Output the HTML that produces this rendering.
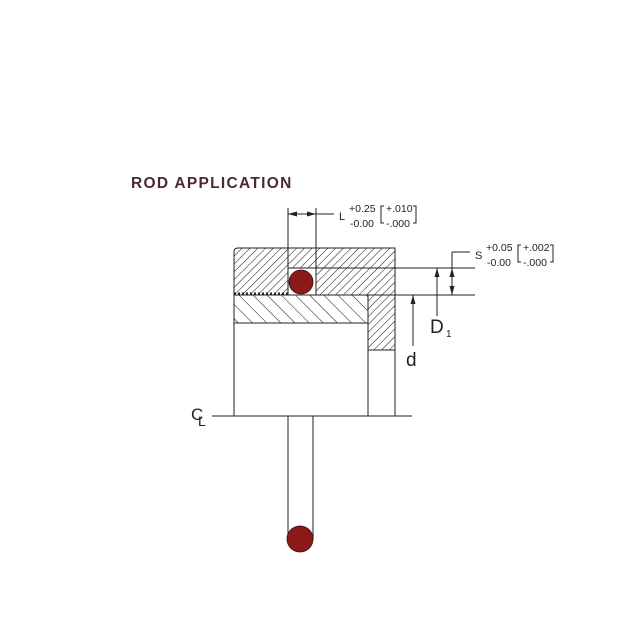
<!DOCTYPE html>
<html><head><style>html,body{margin:0;padding:0;background:#fff;width:640px;height:640px;overflow:hidden}</style></head>
<body>
<svg width="640" height="640" xmlns="http://www.w3.org/2000/svg" font-family="'Liberation Sans',sans-serif">
<defs>
<pattern id="hf" patternUnits="userSpaceOnUse" width="5.5" height="5.5" patternTransform="rotate(45)">
<line x1="0" y1="0" x2="0" y2="5.5" stroke="#111" stroke-width="1"/></pattern>
<pattern id="hb" patternUnits="userSpaceOnUse" width="10" height="10" patternTransform="rotate(-45)">
<line x1="0" y1="0" x2="0" y2="10" stroke="#111" stroke-width="1"/></pattern>
</defs>
<text x="131" y="188" font-size="15.5" font-weight="bold" fill="#4a2a30" letter-spacing="1.3">ROD APPLICATION</text>
<g stroke="#222" stroke-width="1" fill="none">
<path d="M234 295 V252 Q234 248 238 248 H395 V295 Z" fill="url(#hf)"/>
<rect x="288" y="268" width="28" height="27" fill="#fff" stroke="#222"/>
<rect x="234" y="295" width="134" height="28" fill="url(#hb)"/>
<rect x="368" y="295" width="27" height="55" fill="url(#hf)"/>
<rect x="234" y="323" width="134" height="93" fill="#fff"/>
<rect x="368" y="350" width="27" height="66" fill="#fff"/>
<path d="M234 293.5 H288" stroke-dasharray="2 2" stroke-width="2"/>
<line x1="212" y1="416" x2="412" y2="416"/>
<line x1="288" y1="416" x2="288" y2="540"/>
<line x1="313" y1="416" x2="313" y2="540"/>
<line x1="316" y1="268" x2="475" y2="268"/>
<line x1="395" y1="295" x2="475" y2="295"/>
<line x1="288" y1="208" x2="288" y2="268"/>
<line x1="316" y1="208" x2="316" y2="268"/>
<line x1="288" y1="214" x2="334" y2="214"/>
<line x1="452" y1="252" x2="470" y2="252"/>
<line x1="452" y1="252" x2="452" y2="295"/>
<line x1="437" y1="268" x2="437" y2="316"/>
<line x1="413" y1="295" x2="413" y2="346"/>
<!-- brackets -->
<path d="M384 206 h-3 v17 h3 M413 206 h3 v17 h-3"/>
<path d="M521 245 h-3 v17 h3 M550 245 h3 v17 h-3"/>
</g>
<g fill="#222">
<path d="M288 214 l9 -2.5 v5 z"/><path d="M316 214 l-9 -2.5 v5 z"/>
<path d="M452 268 l-2.5 9 h5 z"/><path d="M452 295 l-2.5 -9 h5 z"/>
<path d="M437 268 l-2.5 9 h5 z"/><path d="M413 295 l-2.5 9 h5 z"/>
</g>
<circle cx="301" cy="282" r="12" fill="#8b1a1a" stroke="#3a0a0a" stroke-width="0.8"/>
<circle cx="300" cy="539" r="13" fill="#8b1a1a" stroke="#3a0a0a" stroke-width="0.8"/>
<g fill="#222" font-size="10.5">
<text x="339" y="220" font-size="11">L</text>
<text x="349" y="212">+0.25</text><text x="350" y="227">-0.00</text>
<text x="386" y="212">+.010</text><text x="386" y="227">-.000</text>
<text x="475" y="259" font-size="11">S</text>
<text x="486" y="251">+0.05</text><text x="487" y="266">-0.00</text>
<text x="523" y="251">+.002</text><text x="523" y="266">-.000</text>
<text x="430" y="333" font-size="19">D</text><text x="446" y="337" font-size="10">1</text>
<text x="406" y="366" font-size="19">d</text>
<text x="191" y="420" font-size="17">C</text><text x="198" y="426" font-size="14">L</text>
</g>
</svg>
</body></html>
